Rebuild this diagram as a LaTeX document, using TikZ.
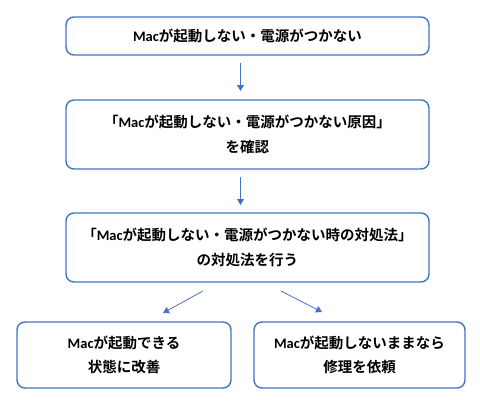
\documentclass[tikz,border=0pt]{standalone}
\usepackage{fontspec}
\setmainfont{Noto Sans CJK JP}[BoldFont={Noto Sans CJK JP Bold}]
\newfontfamily\latinb{Carlito}[BoldFont={Carlito Bold}]
\usetikzlibrary{arrows.meta}
\definecolor{bblue}{HTML}{4472C4}
\newcommand{\Mac}{{\latinb\bfseries Mac}}
\tikzset{
  box/.style={draw=bblue, line width=1.4pt, rounded corners=8pt, fill=white,
    align=center, font=\fontsize{14.5}{24.5}\selectfont\bfseries, inner sep=0pt},
  conn/.style={draw=bblue, line width=0.8pt, -{Triangle[width=7pt,length=6pt]}}
}
\begin{document}
\begin{tikzpicture}[x=1pt,y=-1pt]
\useasboundingbox (0,0) rectangle (480,402);
\node[box, minimum width=363pt, minimum height=38pt] (b1) at (247.5,36) {\Mac が起動しない・電源がつかない};
\node[box, minimum width=363pt, minimum height=69pt] (b2) at (247.5,134.5) {「\Mac が起動しない・電源がつかない原因」\\を確認};
\node[box, minimum width=363pt, minimum height=69pt] (b3) at (247.5,247.5) {「\Mac が起動しない・電源がつかない時の対処法」\\の対処法を行う};
\node[box, minimum width=214pt, minimum height=66pt] (b4) at (124,355) {\Mac が起動できる\\状態に改善};
\node[box, minimum width=211pt, minimum height=66pt] (b5) at (359.5,355) {\Mac が起動しないままなら\\修理を依頼};
\coordinate (a1s) at (240.5,63);
\coordinate (a1e) at (240.5,91);
\coordinate (a2s) at (240.5,177);
\coordinate (a2e) at (240.5,205);
\coordinate (a3s) at (203,291);
\coordinate (a3e) at (163,313);
\coordinate (a4s) at (281,291);
\coordinate (a4e) at (322,312);
\draw[conn] (a1s) -- (a1e);
\draw[conn] (a2s) -- (a2e);
\draw[conn] (a3s) -- (a3e);
\draw[conn] (a4s) -- (a4e);
\end{tikzpicture}
\end{document}
